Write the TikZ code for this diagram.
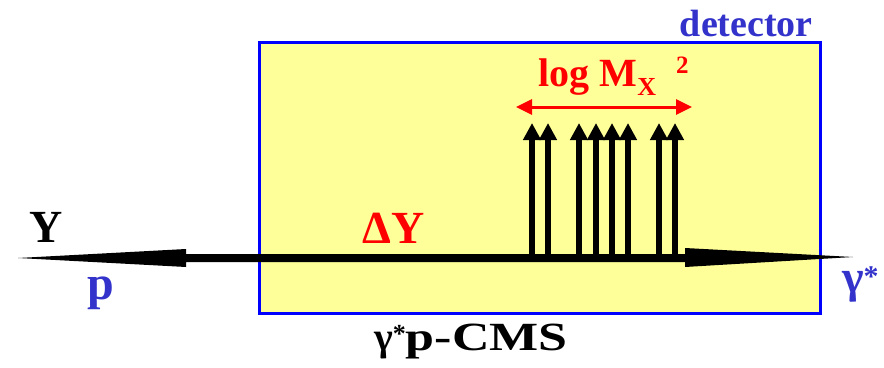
\documentclass[tikz,border=0pt]{standalone}
\usepackage{fontspec}
\setmainfont{Liberation Serif}
\usetikzlibrary{arrows.meta}
\definecolor{boxfill}{RGB}{255,255,153}
\definecolor{boxline}{RGB}{0,0,255}
\definecolor{lblue}{RGB}{51,51,204}
\definecolor{lred}{RGB}{255,0,0}
\begin{document}
\begin{tikzpicture}[x=1pt,y=-1pt,
  lbl/.style={inner sep=0pt,font=\bfseries},
  track/.style={line width=6pt,-{Triangle[width=17pt,length=17pt]}}]
\useasboundingbox (0,0) rectangle (884,367);
% detector box
\draw[boxline,fill=boxfill,line width=3pt] (259,42) rectangle (820,313);
\node[lbl,anchor=base east,text=lblue,font=\fontsize{38}{40}\bfseries\selectfont] (det) at (813,36) {detector};
% main axis
\coordinate (lt) at (18,258);
\coordinate (rt) at (853,257);
\fill (lt) -- (186,249) -- (186,254) -- (685,254) -- (685,248) -- (rt) -- (685,267) -- (685,262) -- (186,262) -- (186,267) -- cycle;
% tracks
\foreach \x in {532,548,579,596,612,628,659,675}{
  \coordinate (b\x) at (\x,256);
  \coordinate (t\x) at (\x,123);
  \draw[track] (b\x) -- (t\x);
}
% mass range
\coordinate (ml) at (516,107);
\coordinate (mr) at (692,107);
\draw[lred,line width=3pt,{Triangle[width=15pt,length=16pt]}-{Triangle[width=15pt,length=16pt]}] (ml) -- (mr);
\node[lbl,anchor=base west,text=lred,font=\fontsize{40}{42}\bfseries\selectfont] (lm) at (538,86) {log M};
\node[lbl,anchor=base west,text=lred,font=\fontsize{26}{28}\bfseries\selectfont] (lx) at (lm.base east) [yshift=-9pt] {X};
\node[lbl,anchor=base west,text=lred,font=\fontsize{25}{26}\bfseries\selectfont] (l2) at (676,73) {2};
% labels
\node[lbl,anchor=base west,font=\fontsize{46}{48}\bfseries\selectfont] (Y) at (29,242) {Y};
\node[lbl,anchor=base west,text=lred,font=\fontsize{46}{48}\bfseries\selectfont] (dY) at (362,243) {ΔY};
\node[lbl,anchor=base west,text=lblue,font=\fontsize{48}{50}\bfseries\selectfont] (p) at (87,299) {p};
\node[lbl,anchor=base west,text=lblue,font=\fontsize{46}{48}\bfseries\selectfont] (g) at (842,292) {γ\raisebox{6pt}{\fontsize{30}{30}\selectfont*}};
\node[lbl,anchor=base west,font=\fontsize{40}{42}\bfseries\selectfont] (cms) at (374,350) {γ\raisebox{8pt}{\fontsize{26}{26}\selectfont*}\scalebox{1.3}[1]{p-CMS}};
\end{tikzpicture}
\end{document}
